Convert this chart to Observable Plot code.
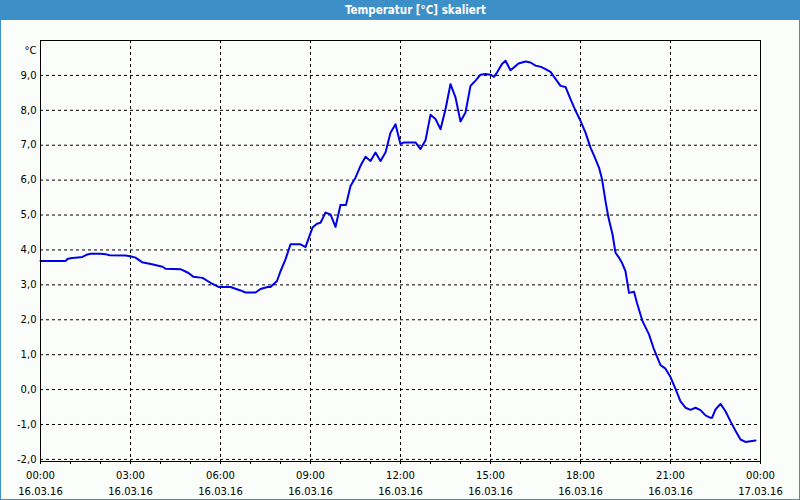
<!DOCTYPE html>
<html><head><meta charset="utf-8">
<script src="https://cdn.jsdelivr.net/npm/d3@7"></script>
<script src="https://cdn.jsdelivr.net/npm/@observablehq/plot@0.6"></script>
<style>
body{margin:0;background:#fff;}
#wrap{position:relative;width:800px;height:500px;background:#fbfdfb;overflow:hidden;font-family:"DejaVu Sans",sans-serif;}
#titlebar{position:absolute;left:0;top:0;width:800px;height:20px;background:#3d8fc7;}
#title{position:absolute;left:345px;top:0;height:20px;color:#fff;font-family:"DejaVu Sans Condensed","DejaVu Sans",sans-serif;font-stretch:condensed;font-weight:bold;font-size:11.5px;line-height:20px;white-space:nowrap;}
#chart{position:absolute;left:0;top:20px;}
#border{position:absolute;left:0;top:0;width:798px;height:498px;border:1px solid #3d8fc7;pointer-events:none;}
</style></head>
<body>
<div id="wrap">
  <div id="titlebar"></div>
  <div id="title">Temperatur [°C] skaliert</div>
  <div id="chart"></div>
  <div id="border"></div>
</div>
<script>
const times = ["00:00","00:30","00:50","00:54","01:00","01:10","01:24","01:32","01:40","02:00","02:10","02:18","02:50","03:00","03:10","03:23","03:43","04:04","04:10","04:40","04:56","05:06","05:24","05:40","05:56","06:20","06:40","06:50","07:10","07:20","07:34","07:40","07:53","08:00","08:10","08:20","08:40","08:50","09:04","09:13","09:20","09:30","09:40","09:50","10:00","10:11","10:20","10:30","10:40","10:50","11:00","11:10","11:20","11:30","11:40","11:50","12:00","12:07","12:30","12:40","12:50","13:00","13:10","13:20","13:30","13:40","13:50","14:00","14:10","14:20","14:30","14:40","14:50","15:00","15:07","15:13","15:23","15:30","15:40","15:47","15:56","16:10","16:20","16:30","16:40","16:50","17:00","17:10","17:20","17:30","17:40","17:50","18:00","18:10","18:20","18:26","18:37","18:43","18:50","18:56","19:04","19:10","19:17","19:23","19:30","19:37","19:47","19:53","20:04","20:17","20:26","20:40","20:50","21:00","21:10","21:20","21:30","21:40","21:50","22:00","22:10","22:20","22:23","22:30","22:40","22:50","23:00","23:10","23:20","23:30","23:40","23:50"];
const temps = [3.68,3.68,3.68,3.74,3.76,3.78,3.80,3.86,3.89,3.89,3.88,3.85,3.84,3.82,3.78,3.65,3.59,3.52,3.46,3.45,3.34,3.23,3.20,3.06,2.94,2.94,2.84,2.78,2.78,2.88,2.94,2.94,3.11,3.39,3.73,4.16,4.16,4.08,4.64,4.75,4.78,5.07,5.02,4.66,5.29,5.29,5.83,6.07,6.41,6.67,6.55,6.79,6.55,6.79,7.36,7.60,7.03,7.08,7.08,6.89,7.14,7.87,7.75,7.46,8.03,8.75,8.37,7.68,7.94,8.70,8.85,9.02,9.04,9.02,8.96,9.08,9.33,9.42,9.15,9.23,9.34,9.40,9.37,9.28,9.25,9.18,9.10,8.90,8.70,8.67,8.32,7.99,7.70,7.36,6.93,6.74,6.36,6.03,5.40,4.92,4.45,3.92,3.78,3.63,3.39,2.77,2.80,2.48,1.96,1.58,1.19,0.70,0.60,0.36,0.02,-0.34,-0.52,-0.58,-0.52,-0.59,-0.74,-0.81,-0.81,-0.57,-0.41,-0.62,-0.91,-1.18,-1.43,-1.50,-1.48,-1.46];
const yTicks = [-2,-1,0,1,2,3,4,5,6,7,8,9];
const xLabelHours = [0,3,6,9,12,15,18,21,24];
const xGridHours = [3,6,9,12,15,18,21];
const xMinorHours = d3.range(0,25);
const yUnit = "°C";

const day = (h, m=0) => new Date(Date.UTC(2016,2,16,h,m));
const data = times.map((t,i)=>({date: day(+t.slice(0,2), +t.slice(3)), temp: temps[i]}));

const chart = Plot.plot({
  width: 800, height: 480,
  marginTop: 20, marginBottom: 39, marginLeft: 40, marginRight: 40,
  style: {background: "transparent", fontFamily: "DejaVu Sans", fontSize: "10px", color: "#000"},
  x: {type: "utc", domain: [day(0), day(24)]},
  y: {domain: [-2.06, 10]},
  marks: [
    Plot.gridX(xGridHours.map(h=>day(h)), {stroke: "#000", strokeOpacity: 1, strokeDasharray: "3,3"}),
    Plot.gridY(yTicks, {stroke: "#000", strokeOpacity: 1, strokeDasharray: "3,3"}),
    Plot.line(data, {x: "date", y: "temp", stroke: "#0000e6", strokeWidth: 2}),
    Plot.frame({stroke: "#000"}),
    Plot.axisY(yTicks, {tickSize: 0, tickPadding: 4, tickFormat: d => d.toFixed(1).replace(".", ","), label: null}),
    Plot.axisX(xMinorHours.map(h=>day(h)), {tickSize: 3, tickFormat: () => "", label: null}),
    Plot.axisX(xLabelHours.map(h=>day(h)), {tickSize: 0, tickPadding: 10, tickFormat: d3.utcFormat("%H:%M"), label: null}),
    Plot.axisX(xLabelHours.map(h=>day(h)), {tickSize: 0, tickPadding: 26, tickFormat: d3.utcFormat("%d.%m.%y"), label: null}),
    Plot.text([yUnit], {frameAnchor: "top-left", textAnchor: "end", dx: -4, dy: 6})
  ]
});
document.getElementById("chart").appendChild(chart);
</script>
</body></html>
